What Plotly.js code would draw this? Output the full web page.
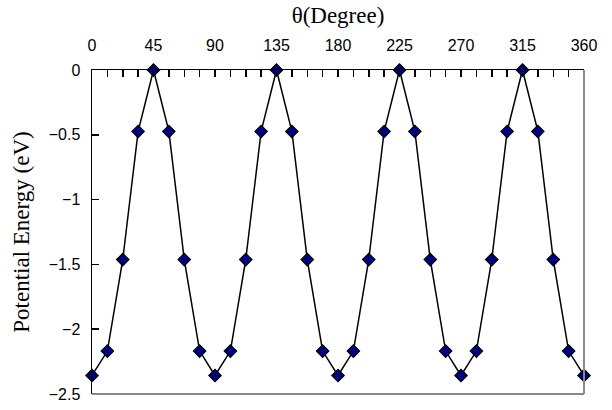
<!DOCTYPE html>
<html><head><meta charset="utf-8">
<script src="https://cdn.plot.ly/plotly-3.0.1.min.js"></script>
<style>html,body{margin:0;padding:0;background:#fff;}#c{width:612px;height:410px;}</style>
</head><body><div id="c"></div>
<script>
const theta = [0, 11.25, 22.5, 33.75, 45, 56.25, 67.5, 78.75, 90, 101.25, 112.5, 123.75, 135, 146.25, 157.5, 168.75, 180, 191.25, 202.5, 213.75, 225, 236.25, 247.5, 258.75, 270, 281.25, 292.5, 303.75, 315, 326.25, 337.5, 348.75, 360];
const energy = [-2.357, -2.169, -1.463, -0.474, 0, -0.474, -1.463, -2.169, -2.357, -2.169, -1.463, -0.474, 0, -0.474, -1.463, -2.169, -2.357, -2.169, -1.463, -0.474, 0, -0.474, -1.463, -2.169, -2.357, -2.169, -1.463, -0.474, 0, -0.474, -1.463, -2.169, -2.357];
const xTicks = [0, 45, 90, 135, 180, 225, 270, 315, 360];
const yTicks = [0, -0.5, -1, -1.5, -2, -2.5];

const tickFont = {family: '"Liberation Sans", Arial, sans-serif', size: 16, color: '#000'};
const serif = '"Liberation Serif", "Times New Roman", serif';

Plotly.newPlot('c', [{
  x: theta, y: energy, type: 'scatter', mode: 'lines+markers',
  line: {color: '#000', width: 1.5},
  marker: {symbol: 'diamond', size: 9.5, color: '#000080', line: {color: '#000', width: 1.2}},
  cliponaxis: false, hoverinfo: 'none'
}], {
  width: 612, height: 410,
  margin: {l: 92, r: 28, t: 70, b: 16},
  paper_bgcolor: '#fff', plot_bgcolor: '#fff',
  showlegend: false,
  xaxis: {
    side: 'top', range: [0, 360], tickvals: xTicks, ticktext: xTicks.map(String),
    ticks: 'inside', ticklen: 7, tickwidth: 1.5, tickcolor: '#000',
    minor: {dtick: 11.25, tick0: 0, ticks: 'inside', ticklen: 7, tickwidth: 1.5, tickcolor: '#000'},
    showline: true, linecolor: '#000', linewidth: 1.5, showgrid: false, zeroline: false,
    tickfont: tickFont, ticklabelstandoff: 11,
    title: {text: 'θ(Degree)', font: {family: serif, size: 23, color: '#000'}, standoff: 7}
  },
  yaxis: {
    range: [-2.5, 0], tickvals: yTicks, ticktext: ['0', '−0.5', '−1', '−1.5', '−2', '−2.5'],
    ticks: 'inside', ticklen: 7, tickwidth: 1.5, tickcolor: '#000',
    showline: true, linecolor: '#000', linewidth: 1.5, showgrid: false, zeroline: false,
    tickfont: tickFont, ticklabelstandoff: 7,
    title: {text: 'Potential Energy (eV)', font: {family: serif, size: 23, color: '#000'}, standoff: 12}
  },
  shapes: [
    {type: 'line', xref: 'paper', yref: 'paper', x0: 1, x1: 1, y0: 0, y1: 1, line: {color: '#888', width: 2}},
    {type: 'line', xref: 'paper', yref: 'paper', x0: 0, x1: 1, y0: 0, y1: 0, line: {color: '#888', width: 2}}
  ]
}, {displayModeBar: false, staticPlot: true});
</script></body></html>
